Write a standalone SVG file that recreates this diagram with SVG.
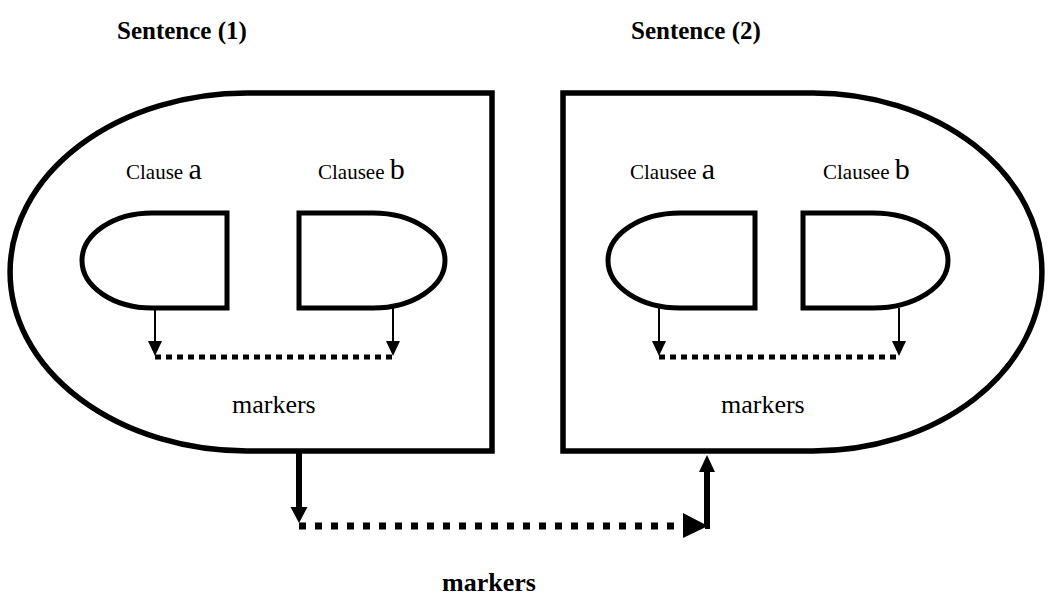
<svg xmlns="http://www.w3.org/2000/svg" width="1049" height="608" viewBox="0 0 1049 608">
  <style>
    .outer { fill: none; stroke: #000; stroke-width: 5.5; }
    .inner { fill: none; stroke: #000; stroke-width: 5; }
    .thin { stroke: #000; stroke-width: 2; fill: none; }
    .thick { stroke: #000; stroke-width: 6; fill: none; }
    .dots { stroke: #000; stroke-width: 5; stroke-dasharray: 6 5; fill: none; }
    .dots-big { stroke: #000; stroke-width: 7; stroke-dasharray: 7 9; fill: none; }
    .head { fill: #000; }
    .title { font-family: "Liberation Serif", "Times New Roman", serif; font-weight: bold; font-size: 25px; fill: #000; }
    .lbl { font-family: "Liberation Serif", "Times New Roman", serif; font-size: 21px; fill: #000; }
    .big { font-size: 30px; }
    .mk { font-family: "Liberation Serif", "Times New Roman", serif; font-size: 26px; fill: #000; }
  </style>
  <rect width="1049" height="608" fill="#fff"/>

  <g id="title-1"><text class="title" x="117" y="39">Sentence (1)</text></g>
  <g id="title-2"><text class="title" x="631" y="39">Sentence (2)</text></g>

  <g id="sentence-1">
    <path class="outer" d="M247,93 H492 V451 H247 A237,179 0 0 1 247,93 Z"/>
    <text class="mk" x="232" y="413">markers</text>
  </g>
  <g id="s1-clause-a">
    <path class="inner" d="M227,213 V308 H152 A70,47.5 0 0 1 152,213 Z"/>
    <text class="lbl" x="126" y="179">Clause <tspan class="big">a</tspan></text>
  </g>
  <g id="s1-clause-b">
    <path class="inner" d="M299,213 H373 A72,47.5 0 0 1 373,308 H299 Z"/>
    <text class="lbl" x="318" y="179">Clausee <tspan class="big">b</tspan></text>
  </g>

  <g id="sentence-2">
    <path class="outer" d="M563,93 H813 A229,179 0 0 1 813,451 H563 Z"/>
    <text class="mk" x="721" y="413">markers</text>
  </g>
  <g id="s2-clause-a">
    <path class="inner" d="M755,213 V308 H680 A72,47.5 0 0 1 680,213 Z"/>
    <text class="lbl" x="630" y="179">Clausee <tspan class="big">a</tspan></text>
  </g>
  <g id="s2-clause-b">
    <path class="inner" d="M803,213 H873 A75,47.5 0 0 1 873,308 H803 Z"/>
    <text class="lbl" x="823" y="179">Clausee <tspan class="big">b</tspan></text>
  </g>

  <g id="bottom-label"><text class="title" x="489" y="591" text-anchor="middle" style="font-size:26px">markers</text></g>

  <g id="connectors">
    <!-- clause markers inside sentence 1 -->
    <line class="thin" x1="155" y1="308" x2="155" y2="342"/>
    <polygon class="head" points="148,341 162,341 155,356"/>
    <line class="thin" x1="393" y1="308" x2="393" y2="342"/>
    <polygon class="head" points="386,341 400,341 393,356"/>
    <line class="dots" x1="155" y1="357" x2="392" y2="357"/>
    <!-- clause markers inside sentence 2 -->
    <line class="thin" x1="659" y1="308" x2="659" y2="342"/>
    <polygon class="head" points="652,341 666,341 659,356"/>
    <line class="thin" x1="899" y1="308" x2="899" y2="342"/>
    <polygon class="head" points="892,341 906,341 899,356"/>
    <line class="dots" x1="659" y1="357" x2="897" y2="357"/>
    <!-- sentence 1 to sentence 2 -->
    <line class="thick" x1="299" y1="451" x2="299" y2="509"/>
    <polygon class="head" points="290.5,507 307.5,507 299,523"/>
    <line class="dots-big" x1="299" y1="526" x2="683" y2="526"/>
    <polygon class="head" points="683,513 683,538 708,526"/>
    <polyline class="thick" points="705,526 707,526 707,470"/>
    <polygon class="head" points="699,472 715,472 707,455"/>
  </g>
</svg>
